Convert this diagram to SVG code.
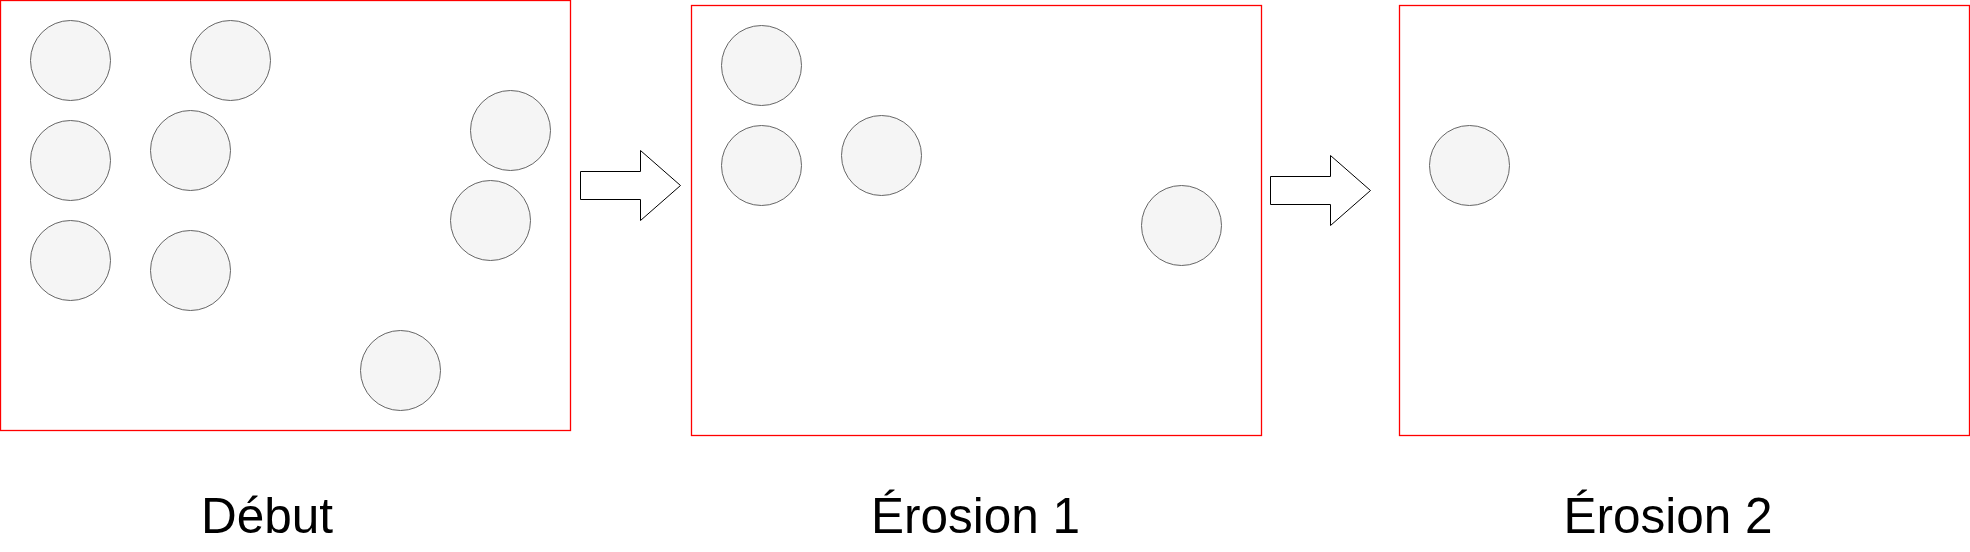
<svg xmlns="http://www.w3.org/2000/svg" width="1970" height="552" viewBox="0 0 1970 552">
<style>
.frame{fill:#ffffff;stroke:#ff0000;stroke-width:1.3}
.dot{fill:#f5f5f5;stroke:#666666;stroke-width:1}
.arrow{fill:#ffffff;stroke:#000000;stroke-width:1}
.label{font-family:"Liberation Sans",Arial,sans-serif;font-size:49.5px;fill:#000000;text-anchor:middle}
</style>
<rect width="1970" height="552" fill="#ffffff"/>
<g id="frame-debut">
<rect class="frame" x="0.5" y="0.5" width="570" height="430"/>
<circle class="dot" cx="70.5" cy="60.5" r="40"/>
<circle class="dot" cx="230.5" cy="60.5" r="40"/>
<circle class="dot" cx="70.5" cy="160.5" r="40"/>
<circle class="dot" cx="190.5" cy="150.5" r="40"/>
<circle class="dot" cx="510.5" cy="130.5" r="40"/>
<circle class="dot" cx="490.5" cy="220.5" r="40"/>
<circle class="dot" cx="70.5" cy="260.5" r="40"/>
<circle class="dot" cx="190.5" cy="270.5" r="40"/>
<circle class="dot" cx="400.5" cy="370.5" r="40"/>
</g>
<g id="frame-erosion1">
<rect class="frame" x="691.5" y="5.5" width="570" height="430"/>
<circle class="dot" cx="761.5" cy="65.5" r="40"/>
<circle class="dot" cx="761.5" cy="165.5" r="40"/>
<circle class="dot" cx="881.5" cy="155.5" r="40"/>
<circle class="dot" cx="1181.5" cy="225.5" r="40"/>
</g>
<g id="frame-erosion2">
<rect class="frame" x="1399.5" y="5.5" width="570" height="430"/>
<circle class="dot" cx="1469.5" cy="165.5" r="40"/>
</g>
<g id="connectors">
<path class="arrow" d="M580.5 171.5 H640.5 V150.5 L680.5 185.5 L640.5 220.5 V199.5 H580.5 Z"/>
<path class="arrow" d="M1270.5 176.5 H1330.5 V155.5 L1370.5 190.5 L1330.5 225.5 V204.5 H1270.5 Z"/>
</g>
<g id="labels">
<text class="label" x="267" y="533">Début</text>
<text class="label" x="975.5" y="533">Érosion 1</text>
<text class="label" x="1668" y="533">Érosion 2</text>
</g>
</svg>
